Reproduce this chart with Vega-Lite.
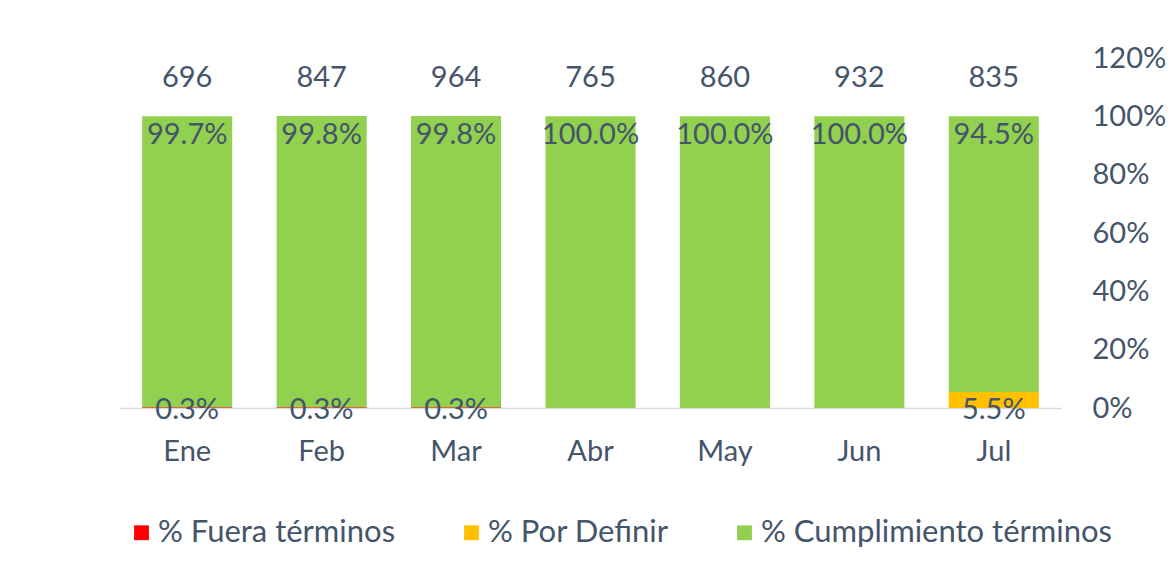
{
  "$schema": "https://vega.github.io/schema/vega-lite/v6.json",
  "autosize": {"type": "none"},
  "padding": {"left": 120, "top": 58, "right": 115, "bottom": 159},
  "width": 941,
  "height": 350,
  "background": "white",
  "config": {
    "view": {"stroke": null},
    "font": "Lato",
    "text": {"font": "Lato", "fontSize": 29, "color": "#44546A"}
  },
  "data": {
    "values": [
      {"mes": "Ene", "serie": "% Fuera términos", "pct": 0.003, "total": 696},
      {"mes": "Ene", "serie": "% Por Definir", "pct": 0, "total": 696},
      {"mes": "Ene", "serie": "% Cumplimiento términos", "pct": 0.997, "total": 696},
      {"mes": "Feb", "serie": "% Fuera términos", "pct": 0.003, "total": 847},
      {"mes": "Feb", "serie": "% Por Definir", "pct": 0, "total": 847},
      {"mes": "Feb", "serie": "% Cumplimiento términos", "pct": 0.998, "total": 847},
      {"mes": "Mar", "serie": "% Fuera términos", "pct": 0.003, "total": 964},
      {"mes": "Mar", "serie": "% Por Definir", "pct": 0, "total": 964},
      {"mes": "Mar", "serie": "% Cumplimiento términos", "pct": 0.998, "total": 964},
      {"mes": "Abr", "serie": "% Fuera términos", "pct": 0, "total": 765},
      {"mes": "Abr", "serie": "% Por Definir", "pct": 0, "total": 765},
      {"mes": "Abr", "serie": "% Cumplimiento términos", "pct": 1.0, "total": 765},
      {"mes": "May", "serie": "% Fuera términos", "pct": 0, "total": 860},
      {"mes": "May", "serie": "% Por Definir", "pct": 0, "total": 860},
      {"mes": "May", "serie": "% Cumplimiento términos", "pct": 1.0, "total": 860},
      {"mes": "Jun", "serie": "% Fuera términos", "pct": 0, "total": 932},
      {"mes": "Jun", "serie": "% Por Definir", "pct": 0, "total": 932},
      {"mes": "Jun", "serie": "% Cumplimiento términos", "pct": 1.0, "total": 932},
      {"mes": "Jul", "serie": "% Fuera términos", "pct": 0, "total": 835},
      {"mes": "Jul", "serie": "% Por Definir", "pct": 0.055, "total": 835},
      {"mes": "Jul", "serie": "% Cumplimiento términos", "pct": 0.945, "total": 835}
    ]
  },
  "encoding": {
    "x": {
      "field": "mes", "type": "nominal",
      "sort": ["Ene", "Feb", "Mar", "Abr", "May", "Jun", "Jul"],
      "scale": {"paddingInner": 0.33, "paddingOuter": 0.165},
      "axis": {
        "title": null, "labelAngle": 0, "ticks": false,
        "domainColor": "#D9D9D9", "domainWidth": 1.5,
        "labelFont": "Lato", "labelFontSize": 29, "labelColor": "#44546A",
        "labelPadding": 29
      }
    }
  },
  "layer": [
    {
      "mark": {"type": "bar"},
      "encoding": {
        "y": {
          "field": "pct", "type": "quantitative", "stack": "zero",
          "scale": {"domain": [0, 1.2]},
          "axis": {
            "orient": "right", "title": null, "values": [0, 0.2, 0.4, 0.6, 0.8, 1.0, 1.2],
            "format": ".0%", "grid": false, "ticks": false, "domain": false,
            "labelAlign": "left", "labelPadding": 31,
            "labelFont": "Lato", "labelFontSize": 29, "labelColor": "#44546A"
          }
        },
        "color": {
          "field": "serie", "type": "nominal",
          "scale": {
            "domain": ["% Fuera términos", "% Por Definir", "% Cumplimiento términos"],
            "range": ["#FF0000", "#FFC000", "#92D050"]
          },
          "legend": {
            "title": null, "orient": "none", "direction": "horizontal",
            "legendX": 6, "legendY": 459,
            "symbolType": "square", "symbolSize": 220, "symbolOpacity": 1, "symbolStrokeWidth": 0,
            "labelFont": "Lato", "labelFontSize": 31, "labelColor": "#44546A", "labelLimit": 0,
            "columnPadding": 60, "labelOffset": 1
          }
        },
        "order": {"field": "serie", "sort": "descending"}
      }
    },
    {
      "transform": [{"filter": "datum.serie == '% Cumplimiento términos'"}],
      "mark": {"type": "text", "baseline": "middle", "dy": 19},
      "encoding": {
        "y": {"datum": 1},
        "text": {"field": "pct", "type": "quantitative", "format": ".1%"}
      }
    },
    {
      "transform": [{"filter": "datum.serie != '% Cumplimiento términos' && datum.pct > 0"}],
      "mark": {"type": "text", "baseline": "middle", "dy": 2},
      "encoding": {
        "y": {"datum": 0},
        "text": {"field": "pct", "type": "quantitative", "format": ".1%"}
      }
    },
    {
      "transform": [{"filter": "datum.serie == '% Cumplimiento términos'"}],
      "mark": {"type": "text", "baseline": "middle", "dy": -38},
      "encoding": {
        "y": {"datum": 1},
        "text": {"field": "total", "type": "quantitative"}
      }
    }
  ]
}
